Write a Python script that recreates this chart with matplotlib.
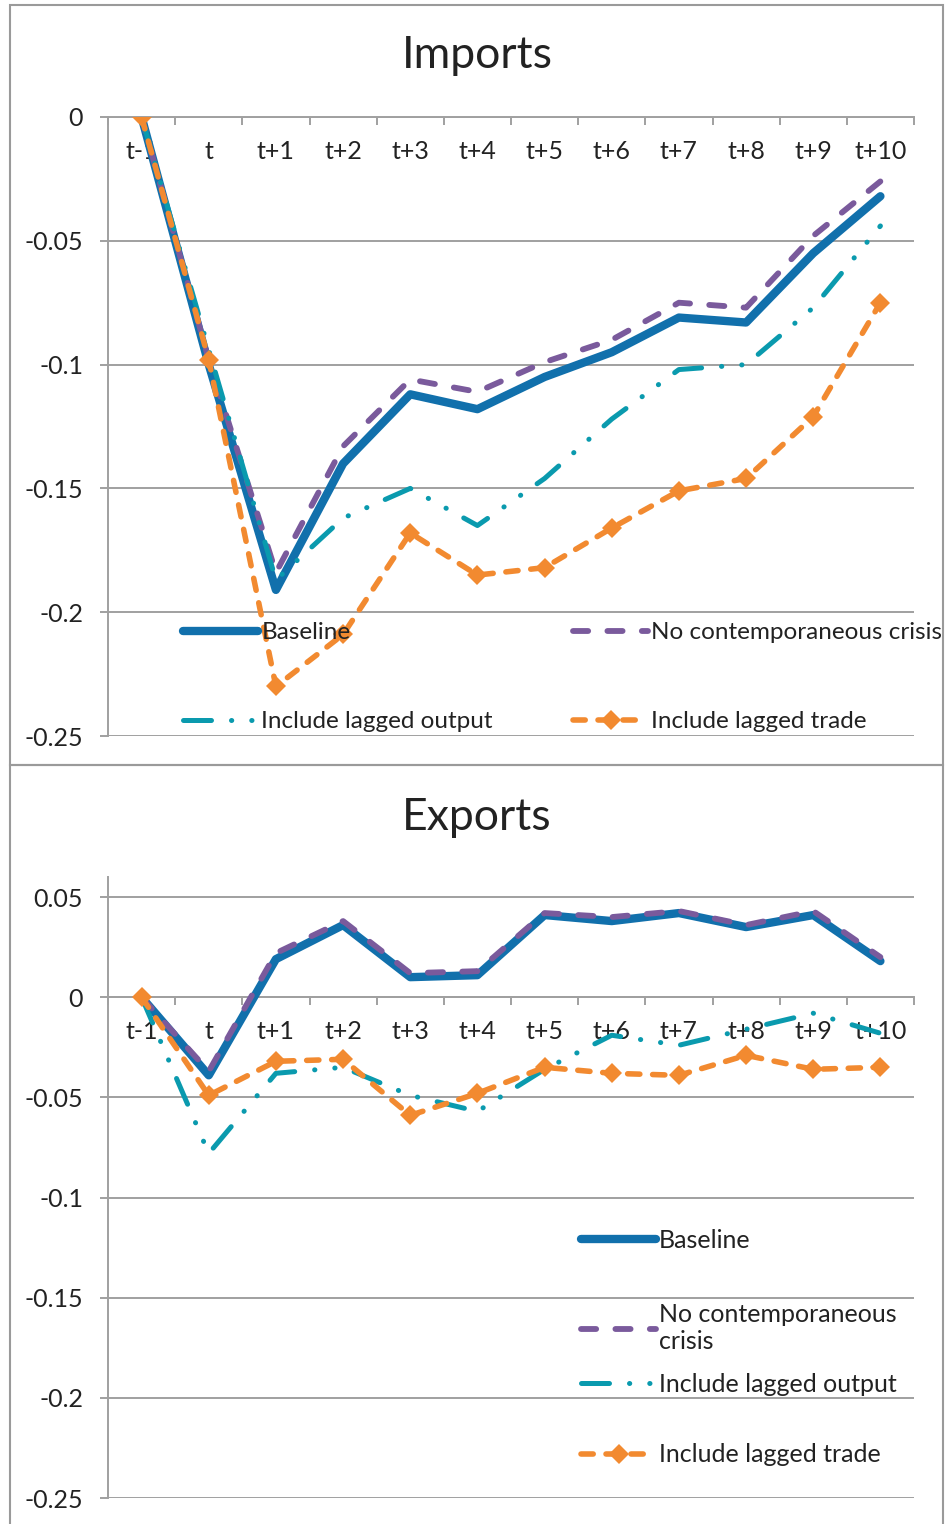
import numpy as np
import matplotlib.pyplot as plt
from matplotlib.lines import Line2D
from matplotlib.patches import Rectangle

plt.rcParams['font.family'] = ['Lato', 'DejaVu Sans']

periods = ['t-1', 't', 't+1', 't+2', 't+3', 't+4', 't+5', 't+6', 't+7', 't+8', 't+9', 't+10']

# Imports
imp_baseline = [0, -0.100, -0.191, -0.140, -0.112, -0.118, -0.105, -0.095, -0.081, -0.083, -0.055, -0.032]
imp_nocrisis = [0, -0.098, -0.184, -0.133, -0.106, -0.111, -0.099, -0.090, -0.075, -0.077, -0.048, -0.026]
imp_lag_out = [0, -0.094, -0.187, -0.162, -0.150, -0.165, -0.146, -0.122, -0.102, -0.100, -0.077, -0.044]
imp_lag_trade = [0, -0.098, -0.230, -0.209, -0.168, -0.185, -0.182, -0.166, -0.151, -0.146, -0.121, -0.075]

# Exports
exp_baseline = [0, -0.039, 0.019, 0.036, 0.010, 0.011, 0.041, 0.038, 0.042, 0.035, 0.041, 0.018]
exp_nocrisis = [0, -0.037, 0.022, 0.038, 0.012, 0.013, 0.042, 0.040, 0.043, 0.036, 0.043, 0.020]
exp_lag_out = [0, -0.078, -0.038, -0.035, -0.049, -0.057, -0.036, -0.019, -0.024, -0.016, -0.008, -0.018]
exp_lag_trade = [0, -0.049, -0.032, -0.031, -0.059, -0.048, -0.035, -0.038, -0.039, -0.029, -0.036, -0.035]

imp_yticks = [0, -0.05, -0.1, -0.15, -0.2, -0.25]
exp_yticks = [0.05, 0, -0.05, -0.1, -0.15, -0.2, -0.25]

labels = ['Baseline', 'No contemporaneous crisis', 'Include lagged output', 'Include lagged trade']

c_base = '#1170AC'
c_purple = '#7A5A9C'
c_teal = '#0A9AAE'
c_orange = '#F28A30'
grid_c = '#A0A0A0'
txt_c = '#222222'
fs = 18

W, H = 947, 1524
fig = plt.figure(figsize=(W / 100, H / 100), dpi=100)

# panel borders
fig.patches.append(Rectangle((10 / W, 1 - 765 / H), 933 / W, 760 / H, transform=fig.transFigure,
                             fill=False, edgecolor='#9A9A9A', lw=1.5))
fig.patches.append(Rectangle((10 / W, -0.01), 933 / W, 1.01 - 765 / H, transform=fig.transFigure,
                             fill=False, edgecolor='#9A9A9A', lw=1.5))


def px_axes(left, top, right, bottom):
    return fig.add_axes([left / W, 1 - bottom / H, (right - left) / W, (bottom - top) / H])


def styles():
    return [
        dict(color=c_base, lw=6.0, solid_capstyle='round', solid_joinstyle='round'),
        dict(color=c_purple, lw=4.2, dashes=(2.6, 3.3), dash_capstyle='round'),
        dict(color=c_teal, lw=3.6, dashes=(5.6, 4.0, 0.05, 4.0, 0.05, 4.0), dash_capstyle='round'),
        dict(color=c_orange, lw=4.0, dashes=(2.2, 2.3), dash_capstyle='round',
             marker='D', ms=10.5, markeredgewidth=0),
    ]


def draw(ax, series, ylim, yticks):
    x = np.arange(len(periods))
    for i, (vals, st) in enumerate(zip(series, styles())):
        ax.plot(x, vals, zorder=3 + i, **st)
    ax.set_xlim(-0.5, len(periods) - 0.5)
    ax.set_ylim(*ylim)
    ax.set_yticks(yticks)
    ax.set_yticklabels([f'{round(v, 2):g}' for v in yticks])
    ax.set_xticks(np.arange(-0.5, len(periods), 1.0))
    ax.set_xticklabels([])
    ax.set_xticks(x, minor=True)
    ax.set_xticklabels(periods, minor=True)
    ax.tick_params(axis='x', which='major', direction='out', length=6, width=1.4, color=grid_c)
    ax.tick_params(axis='x', which='minor', length=0, pad=16.5, labelsize=fs, labelcolor=txt_c)
    ax.tick_params(axis='y', direction='out', length=6, width=1.4, color=grid_c, pad=12,
                   labelsize=fs, labelcolor=txt_c)
    ax.grid(axis='y', color=grid_c, lw=1.4)
    ax.set_axisbelow(True)
    for s in ['top', 'right']:
        ax.spines[s].set_visible(False)
    ax.spines['bottom'].set_position(('data', 0))
    for s in ['bottom', 'left']:
        ax.spines[s].set_color(grid_c)
        ax.spines[s].set_linewidth(1.4)
    ax.patch.set_alpha(0)


def handles():
    return [Line2D([], [], **st) for st in styles()]


# Imports panel
ax1 = px_axes(108, 117, 914, 736)
draw(ax1, [imp_baseline, imp_nocrisis, imp_lag_out, imp_lag_trade], (-0.25, 0), imp_yticks)
fig.text(477 / W, 1 - 55 / H, 'Imports', ha='center', va='center', fontsize=32, color=txt_c)
h = handles()
fig.legend([h[0], h[2], h[1], h[3]], [labels[0], labels[2], labels[1], labels[3]],
           ncol=2, loc='upper left', bbox_to_anchor=(183 / W, 1 - 622 / H),
           frameon=False, fontsize=17.5, handlelength=3.1, handletextpad=0.12,
           columnspacing=3.3, labelspacing=2.8, borderpad=0, borderaxespad=0,
           labelcolor=txt_c)

# Exports panel
ax2 = px_axes(108, 877, 914, 1498)
draw(ax2, [exp_baseline, exp_nocrisis, exp_lag_out, exp_lag_trade], (-0.25, 0.06), exp_yticks)
fig.text(477 / W, 1 - 817 / H, 'Exports', ha='center', va='center', fontsize=32, color=txt_c)
h = handles()
exp_labels = [labels[0], 'No contemporaneous\ncrisis', labels[2], labels[3]]
exp_leg_y = [1240, 1328, 1384, 1455]
for hd, lb, yy in zip(h, exp_labels, exp_leg_y):
    fig.legend([hd], [lb], loc='center left', bbox_to_anchor=(581 / W, 1 - yy / H),
               frameon=False, fontsize=fs, handlelength=3.0, handletextpad=0.12,
               borderpad=0, borderaxespad=0, labelcolor=txt_c)

fig.savefig('out.png', dpi=100)
